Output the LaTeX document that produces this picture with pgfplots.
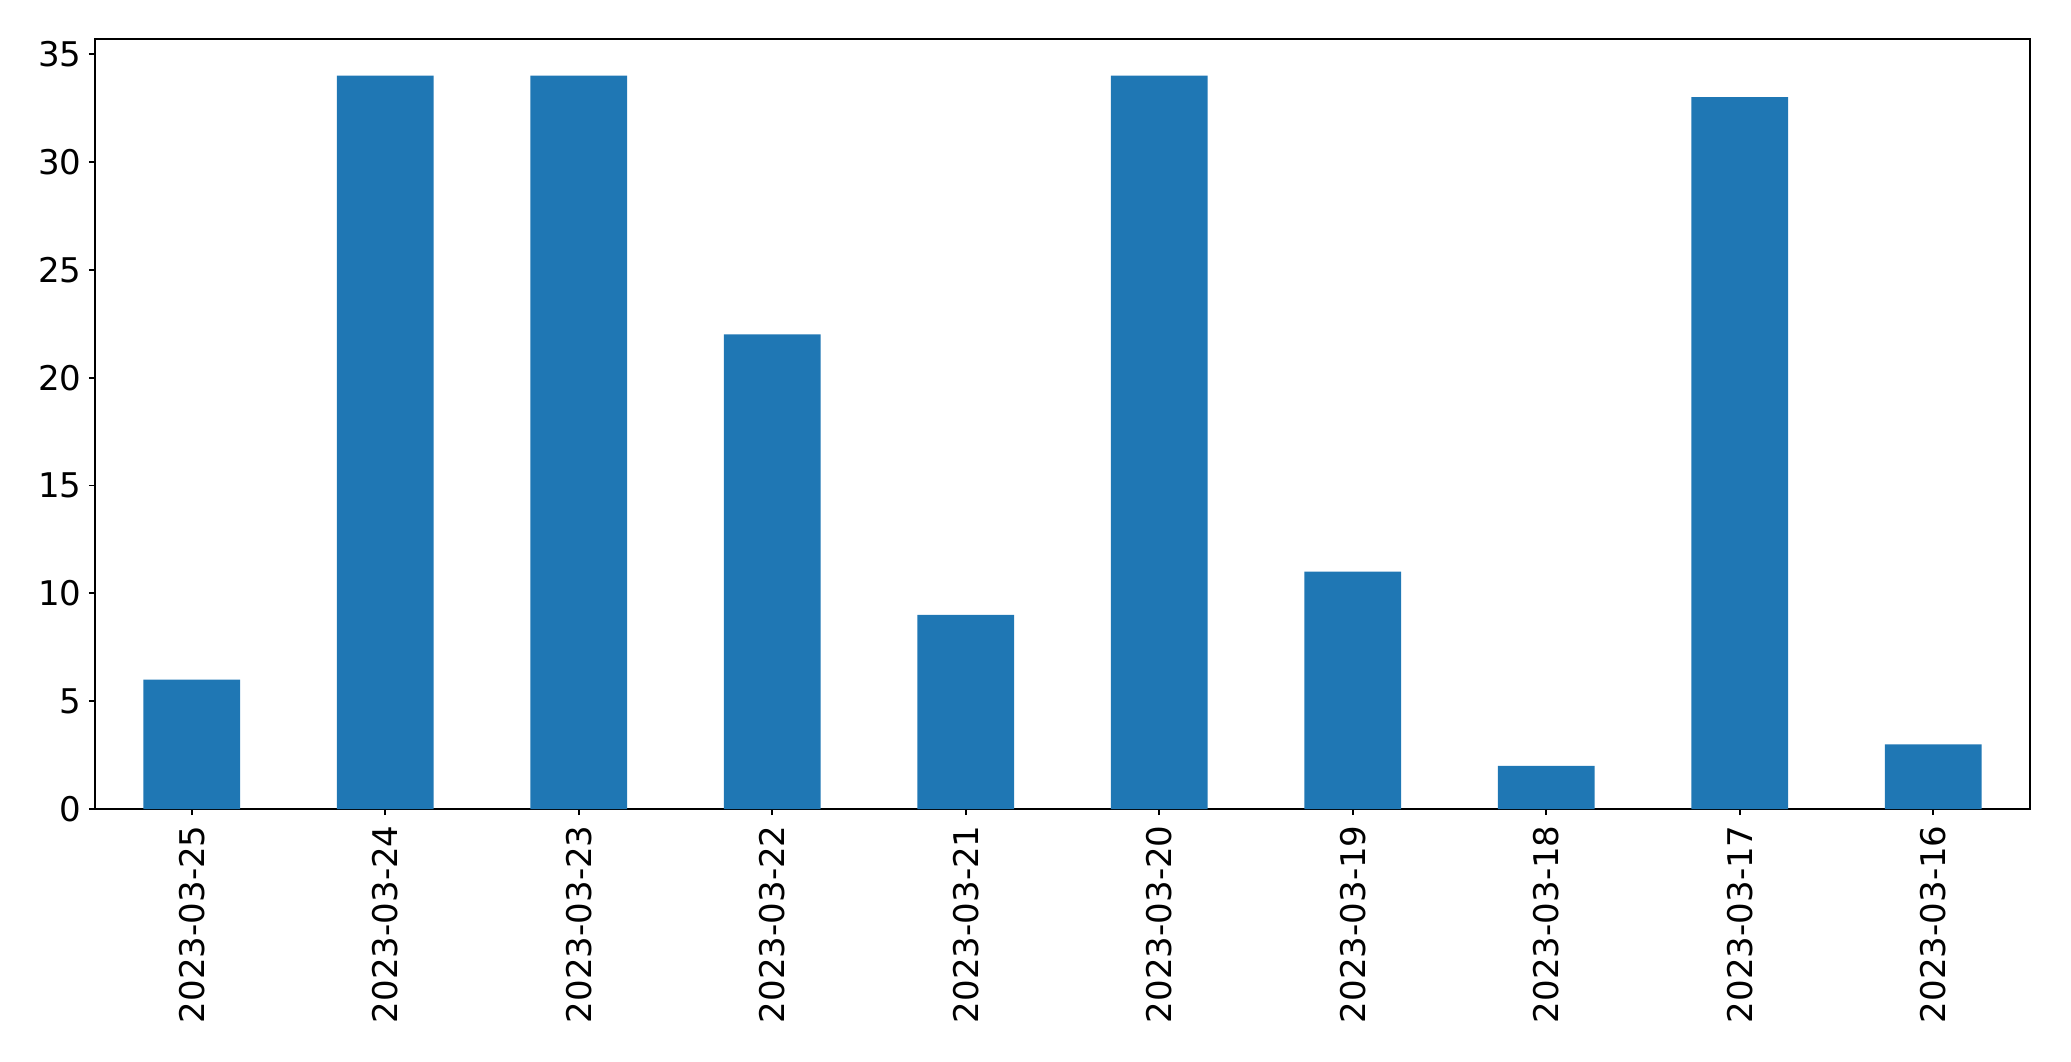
\documentclass[border=0pt]{standalone}
\usepackage{pgfplots}
\pgfplotsset{compat=1.18}
\usepackage{fontspec}
\setmainfont{DejaVu Sans}
\usetikzlibrary{calc}
\definecolor{mplblue}{HTML}{1F77B4}

\begin{document}
\begin{tikzpicture}
\begin{axis}[
    scale only axis,
    width=967.5pt, height=385pt,
    xmin=-0.5, xmax=9.5,
    ymin=0, ymax=35.7,
    axis line style={line width=0.9pt},
    every tick/.style={black, line width=0.9pt},
    tick align=outside,
    tick pos=left,
    major tick length=3pt,
    xtick={0,...,9},
    xticklabels={2023-03-25,2023-03-24,2023-03-23,2023-03-22,2023-03-21,2023-03-20,2023-03-19,2023-03-18,2023-03-17,2023-03-16},
    ytick={0,5,10,15,20,25,30,35},
    tick label style={font=\fontsize{17}{20}\selectfont},
    /pgf/number format/assume math mode=true,
    xticklabel style={rotate=90, anchor=east, inner sep=0pt, xshift=-5pt},
    yticklabel style={inner sep=0pt, xshift=-3.5pt},
]
\addplot[ybar, bar width=0.5, fill=mplblue, draw=none] coordinates {
    (0,6) (1,34) (2,34) (3,22) (4,9) (5,34) (6,11) (7,2) (8,33) (9,3)
};
\end{axis}
\path ($(current axis.south west)+(-47.5pt,-126pt)$) rectangle ($(current axis.north east)+(20.5pt,19.5pt)$);
\end{tikzpicture}
\end{document}
